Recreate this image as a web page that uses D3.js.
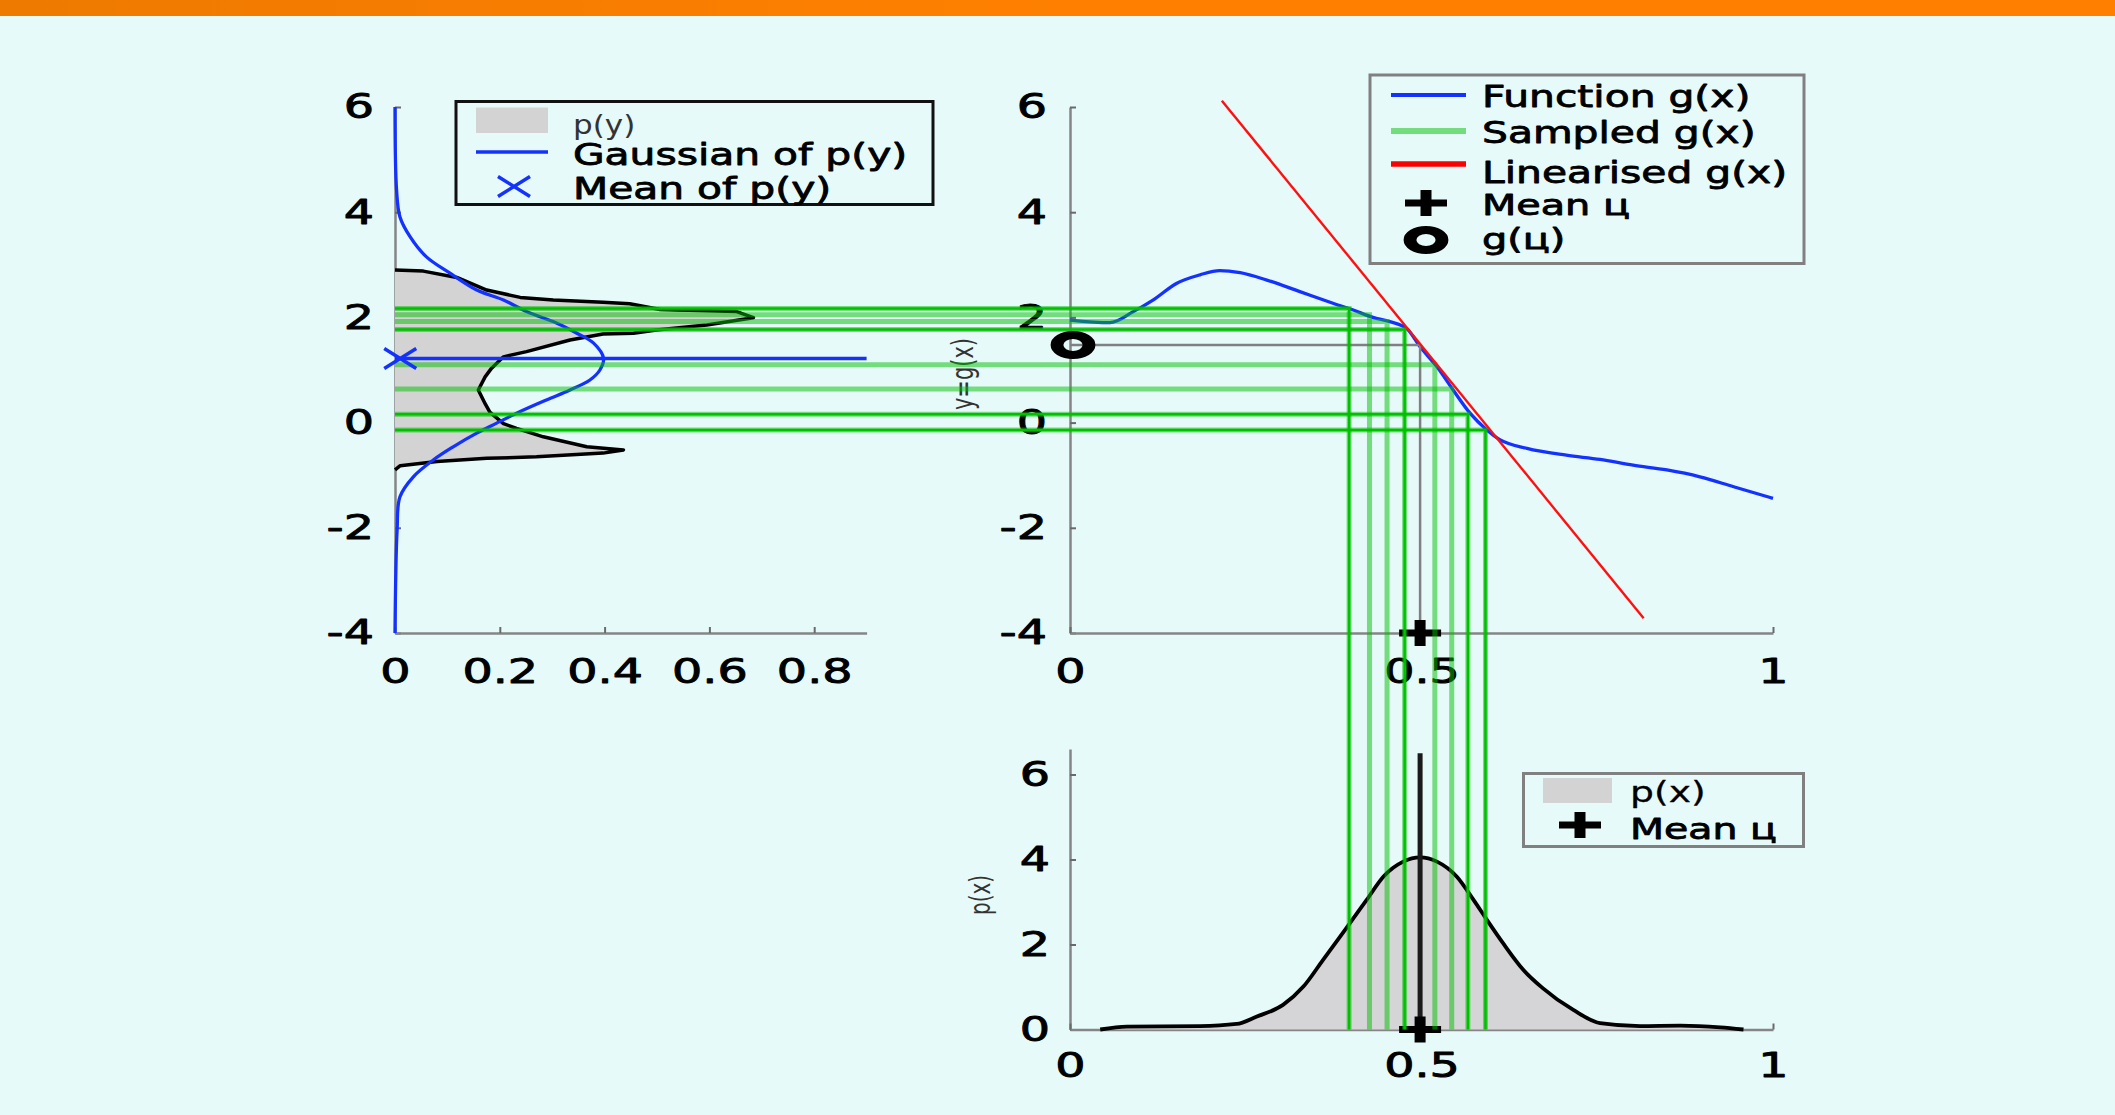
<!DOCTYPE html>
<html>
<head>
<meta charset="utf-8">
<script src="https://cdn.jsdelivr.net/npm/d3@7"></script>
<style>
  html, body { margin: 0; padding: 0; background: #e6fafa; overflow: hidden; }
  svg { display: block; }
  text { font-family: "DejaVu Sans", sans-serif; }
</style>
</head>
<body>
<svg id="fig"></svg>
<script>
// ---- values ----
// g(x), the nonlinear function (middle panel)
const gX = [0, 0.057, 0.09, 0.118, 0.152, 0.185, 0.213, 0.242, 0.28, 0.327, 0.374, 0.403, 0.431, 0.455, 0.479,
            0.498, 0.522, 0.545, 0.569, 0.593, 0.612, 0.65, 0.706, 0.754, 0.801, 0.849, 0.896, 0.944, 1.0];
const gY = [1.95, 1.90, 2.11, 2.33, 2.65, 2.81, 2.89, 2.85, 2.71, 2.49, 2.27, 2.14, 2.0, 1.92, 1.79,
            1.44, 1.06, 0.62, 0.18, -0.14, -0.33, -0.49, -0.62, -0.70, -0.81, -0.90, -1.03, -1.22, -1.44];

// samples of x and their images g(x)
const sampleX = [0.397, 0.426, 0.451, 0.476, 0.519, 0.543, 0.566, 0.591];
const sampleG = [2.17, 2.05, 1.92, 1.77, 1.10, 0.64, 0.16, -0.14];

// mean of x and g(mean), linearisation end points
const mu = 0.498;
const gMu = 1.475;
const linX = [0.216, 0.816];
const linY = [6.12, -3.72];

// p(y): estimated density of y (left panel), listed top to bottom
const pyY = [2.90, 2.88, 2.76, 2.52, 2.38, 2.33, 2.29, 2.26, 2.15, 2.11, 1.995, 1.855, 1.76, 1.70, 1.685, 1.57, 1.35,
             1.25, 1.03, 0.87, 0.62, 0.36, 0.20, -0.02, -0.11, -0.27, -0.46, -0.52, -0.58, -0.65, -0.68, -0.74, -0.82, -0.90];
const pyD = [0, 0.054, 0.118, 0.175, 0.239, 0.302, 0.397, 0.448, 0.506, 0.652, 0.684, 0.595, 0.499, 0.455, 0.397, 0.334, 0.251,
             0.207, 0.184, 0.172, 0.159, 0.172, 0.181, 0.207, 0.232, 0.283, 0.366, 0.436, 0.397, 0.27, 0.175, 0.08, 0.01, 0];

// Gaussian fitted to p(y)
const gaussY = [6.0, 4.42, 3.91, 3.53, 3.15, 2.84, 2.52, 2.33, 2.11, 1.89, 1.70, 1.51, 1.22, 1.0, 0.81, 0.62, 0.43,
                0.21, -0.01, -0.20, -0.46, -0.71, -1.03, -1.41, -2.04, -4.0];
const gaussD = [0, 0.003, 0.0095, 0.029, 0.06, 0.105, 0.156, 0.207, 0.251, 0.309, 0.347, 0.379, 0.398, 0.391, 0.372, 0.334, 0.289,
                0.239, 0.194, 0.156, 0.111, 0.073, 0.035, 0.0095, 0.004, 0];
const meanY = 1.22;
const meanYMarkerD = 0.01;

// p(x): density of x (bottom panel)
const pxX = [0.043, 0.081, 0.185, 0.237, 0.265, 0.303, 0.332, 0.36, 0.391, 0.422, 0.446, 0.474, 0.498, 0.522, 0.55,
             0.574, 0.593, 0.616, 0.645, 0.672, 0.716, 0.754, 0.811, 0.868, 0.925, 0.958];
const pxD = [0, 0.07, 0.08, 0.13, 0.30, 0.58, 1.01, 1.64, 2.34, 3.05, 3.6, 3.95, 4.05, 3.95, 3.6,
             3.05, 2.58, 2.03, 1.40, 0.98, 0.46, 0.15, 0.08, 0.09, 0.05, 0];
const meanLineTop = 6.5;

// tick labels
const yTicks = [-4, -2, 0, 2, 4, 6];
const densTicks = [0, 0.2, 0.4, 0.6, 0.8];
const unitTicks = [0, 0.5, 1];
const pxTicks = [0, 2, 4, 6];

// ---- drawing ----
const W = 2115, H = 1115;
const SX = 1.4;      // the figure is stretched horizontally
const LSX = 1.36;
const GREEN = '#00c000';
const BLUE = '#1432ff';
const brightSamples = new Set([0, 3, 6, 7]);

const svg = d3.select('#fig').attr('width', W).attr('height', H);

// orange title bar
const grad = svg.append('defs').append('linearGradient').attr('id', 'bar');
grad.append('stop').attr('offset', '0%').attr('stop-color', '#ee7a00');
grad.append('stop').attr('offset', '50%').attr('stop-color', '#ff8000');
grad.append('stop').attr('offset', '100%').attr('stop-color', '#ff8000');
svg.append('rect').attr('width', W).attr('height', 16).attr('fill', 'url(#bar)');

const xL = d3.scaleLinear([0, 0.9], [395, 866.6]);
const yT = d3.scaleLinear([-4, 6], [633, 107]);
const xM = d3.scaleLinear([0, 1], [1070, 1773]);
const yB = d3.scaleLinear([0, 6.6], [1029.5, 749]);

function stretchText(sel, sx) {
  sel.each(function () {
    const t = d3.select(this);
    const x = +t.attr('x') || 0, y = +t.attr('y') || 0;
    t.attr('x', 0).attr('y', 0).attr('transform', `translate(${x},${y}) scale(${sx},1)`);
  });
}

function styleAxis(g) {
  g.attr('font-size', null).attr('font-family', null);
  g.select('.domain').attr('stroke', '#858585').attr('stroke-width', 2.5);
  g.selectAll('.tick line').attr('stroke', '#6a6a6a').attr('stroke-width', 2);
  const t = g.selectAll('.tick text').attr('font-size', 34).attr('fill', '#000')
    .attr('stroke', '#000').attr('stroke-width', 0.9).attr('stroke-linejoin', 'round');
  stretchText(t, SX);
}

const axes = svg.append('g');
axes.append('g').attr('transform', 'translate(395,0)')
  .call(d3.axisLeft(yT).tickValues(yTicks).tickFormat(d => String(d)).tickSizeInner(-6).tickSizeOuter(0).tickPadding(21))
  .call(styleAxis);
axes.append('g').attr('transform', 'translate(0,633)')
  .call(d3.axisBottom(xL).tickValues(densTicks).tickFormat(d => String(d)).tickSizeInner(-6).tickSizeOuter(0).tickPadding(26))
  .call(styleAxis);
axes.append('g').attr('transform', 'translate(1070,0)')
  .call(d3.axisLeft(yT).tickValues(yTicks).tickFormat(d => String(d)).tickSizeInner(-6).tickSizeOuter(0).tickPadding(23))
  .call(styleAxis);
axes.append('g').attr('transform', 'translate(0,633)')
  .call(d3.axisBottom(xM).tickValues(unitTicks).tickFormat(d => String(d)).tickSizeInner(-6).tickSizeOuter(0).tickPadding(26))
  .call(styleAxis);
axes.append('g').attr('transform', 'translate(1070,0)')
  .call(d3.axisLeft(yB).tickValues(pxTicks).tickFormat(d => String(d)).tickSizeInner(-6).tickSizeOuter(0).tickPadding(20))
  .call(styleAxis);
axes.append('g').attr('transform', 'translate(0,1029.5)')
  .call(d3.axisBottom(xM).tickValues(unitTicks).tickFormat(d => String(d)).tickSizeInner(-6).tickSizeOuter(0).tickPadding(23))
  .call(styleAxis);

// rotated axis titles
function rotLabel(x, y, str, size) {
  svg.append('text').attr('transform', `translate(${x},${y}) scale(${SX},1) rotate(-90)`)
    .attr('text-anchor', 'middle').attr('dy', '0.35em')
    .attr('font-size', size).attr('fill', '#333').text(str);
}
rotLabel(963, 374, 'y=g(x)', 21);
rotLabel(980, 895, 'p(x)', 20);

// markers
function plus(g, x, y, color) {
  const m = g.append('g').attr('transform', `translate(${x},${y})`).attr('fill', color || '#000');
  m.append('rect').attr('x', -21).attr('y', -3.5).attr('width', 42).attr('height', 7);
  m.append('rect').attr('x', -5.5).attr('y', -13).attr('width', 11).attr('height', 26);
}
function ring(g, x, y) {
  g.append('circle').attr('transform', `translate(${x},${y}) scale(1.6,1)`)
    .attr('r', 10).attr('fill', 'none').attr('stroke', '#000').attr('stroke-width', 8);
}
function cross(g, x, y) {
  g.append('path').attr('transform', `translate(${x},${y})`)
    .attr('d', 'M-16,-10L16,10M-16,10L16,-10')
    .attr('stroke', BLUE).attr('stroke-width', 3.5).attr('fill', 'none');
}

const plots = svg.append('g');

// left panel: p(y) and its Gaussian
const py = pyY.map((y, i) => ({ y, d: pyD[i] }));
plots.append('path').datum(py)
  .attr('d', d3.area().y(d => yT(d.y)).x0(xL(0)).x1(d => xL(d.d)))
  .attr('fill', '#d3d3d3');
plots.append('path').datum(py)
  .attr('d', d3.line().x(d => xL(d.d)).y(d => yT(d.y)))
  .attr('fill', 'none').attr('stroke', '#000').attr('stroke-width', 3.5).attr('stroke-linejoin', 'round');
const gauss = gaussY.map((y, i) => ({ y, d: gaussD[i] }));
plots.append('path').datum(gauss)
  .attr('d', d3.line().x(d => xL(d.d)).y(d => yT(d.y)).curve(d3.curveCatmullRom))
  .attr('fill', 'none').attr('stroke', BLUE).attr('stroke-width', 3.3);

// middle panel: g(x)
const gData = gX.map((x, i) => ({ x, y: gY[i] }));
plots.append('path').datum(gData)
  .attr('d', d3.line().x(d => xM(d.x)).y(d => yT(d.y)).curve(d3.curveMonotoneX))
  .attr('fill', 'none').attr('stroke', BLUE).attr('stroke-width', 3.3);
plots.append('path')
  .attr('d', `M${xM(0)},${yT(gMu)}H${xM(mu)}V${yT(-4)}`)
  .attr('fill', 'none').attr('stroke', '#808080').attr('stroke-width', 2.5);
plus(plots, xM(mu), yT(-4));

// bottom panel: p(x)
const px = pxX.map((x, i) => ({ x, d: pxD[i] }));
plots.append('path').datum(px)
  .attr('d', d3.area().x(d => xM(d.x)).y0(yB(0)).y1(d => yB(d.d)).curve(d3.curveMonotoneX))
  .attr('fill', '#d5d5d7');
plots.append('path').datum(px)
  .attr('d', d3.line().x(d => xM(d.x)).y(d => yB(d.d)).curve(d3.curveMonotoneX))
  .attr('fill', 'none').attr('stroke', '#000').attr('stroke-width', 3.8);
plots.append('line')
  .attr('x1', xM(mu)).attr('x2', xM(mu)).attr('y1', yB(0)).attr('y2', yB(meanLineTop))
  .attr('stroke', '#1a1a1a').attr('stroke-width', 5);
plus(plots, xM(mu), yB(0));

// sampled g(x): from p(x) up to g, then across to p(y)
const samples = plots.append('g').attr('fill', 'none');
sampleX.forEach((x, i) => {
  const d = `M${xL(0)},${yT(sampleG[i])}H${xM(x)}V${yB(0)}`;
  samples.append('path').attr('d', d).attr('stroke', GREEN).attr('stroke-opacity', 0.5).attr('stroke-width', 5);
  if (brightSamples.has(i)) samples.append('path').attr('d', d).attr('stroke', GREEN).attr('stroke-width', 2.5);
});

// mean of p(y)
plots.append('line')
  .attr('x1', xL(0)).attr('x2', xL(0.9)).attr('y1', yT(meanY)).attr('y2', yT(meanY))
  .attr('stroke', BLUE).attr('stroke-width', 3.5);
cross(plots, xL(meanYMarkerD), yT(meanY));

// linearised g(x)
plots.append('path').datum(linX.map((x, i) => ({ x, y: linY[i] })))
  .attr('d', d3.line().x(d => xM(d.x)).y(d => yT(d.y)))
  .attr('fill', 'none').attr('stroke', '#ff1010').attr('stroke-width', 2.4);
ring(plots, xM(0) + 3, yT(gMu));

// ---- legends ----
function legendText(g, x, y, str, opts) {
  opts = opts || {};
  const fill = opts.fill || '#000';
  g.append('text').attr('transform', `translate(${x},${y}) scale(${opts.sx || LSX},1)`)
    .attr('font-size', opts.size || 30).attr('fill', fill)
    .attr('stroke', fill).attr('stroke-width', opts.weight === undefined ? 0.8 : opts.weight)
    .attr('stroke-linejoin', 'round').text(str);
}
const leg = svg.append('g');

// left legend
leg.append('rect').attr('x', 456).attr('y', 101.5).attr('width', 477).attr('height', 103)
  .attr('fill', 'none').attr('stroke', '#111').attr('stroke-width', 3);
leg.append('rect').attr('x', 476).attr('y', 107.5).attr('width', 72).attr('height', 25.5).attr('fill', '#d3d3d3');
leg.append('line').attr('x1', 476).attr('x2', 548).attr('y1', 152).attr('y2', 152)
  .attr('stroke', BLUE).attr('stroke-width', 3.5);
cross(leg, 514, 186.5);
legendText(leg, 573, 133.5, 'p(y)', { size: 27, sx: 1.15, fill: '#333', weight: 0 });
legendText(leg, 573, 165, 'Gaussian of p(y)');
legendText(leg, 573, 198.5, 'Mean of p(y)');

// middle legend
leg.append('rect').attr('x', 1370).attr('y', 75).attr('width', 434).attr('height', 188.5)
  .attr('fill', 'none').attr('stroke', '#808080').attr('stroke-width', 3);
leg.append('line').attr('x1', 1391).attr('x2', 1466).attr('y1', 95).attr('y2', 95)
  .attr('stroke', BLUE).attr('stroke-width', 4);
leg.append('line').attr('x1', 1391).attr('x2', 1466).attr('y1', 131).attr('y2', 131)
  .attr('stroke', GREEN).attr('stroke-opacity', 0.5).attr('stroke-width', 6);
leg.append('line').attr('x1', 1391).attr('x2', 1466).attr('y1', 164).attr('y2', 164)
  .attr('stroke', '#ff0000').attr('stroke-width', 5.5);
plus(leg, 1426, 203);
ring(leg, 1426, 240);
legendText(leg, 1482, 107, 'Function g(x)');
legendText(leg, 1482, 143, 'Sampled g(x)');
legendText(leg, 1482, 182.5, 'Linearised g(x)');
legendText(leg, 1482, 215, 'Mean ц', { size: 28, sx: 1.42 });
legendText(leg, 1482, 249, 'g(ц)', { size: 28, sx: 1.42 });

// bottom legend
leg.append('rect').attr('x', 1523.5).attr('y', 773.5).attr('width', 280).attr('height', 73)
  .attr('fill', 'none').attr('stroke', '#808080').attr('stroke-width', 3);
leg.append('rect').attr('x', 1543).attr('y', 778).attr('width', 69).attr('height', 25).attr('fill', '#d3d3d3');
plus(leg, 1580, 825);
legendText(leg, 1630, 802, 'p(x)', { size: 29, sx: 1.3, weight: 0.3 });
legendText(leg, 1630, 839, 'Mean ц', { size: 29 });
</script>
</body>
</html>
